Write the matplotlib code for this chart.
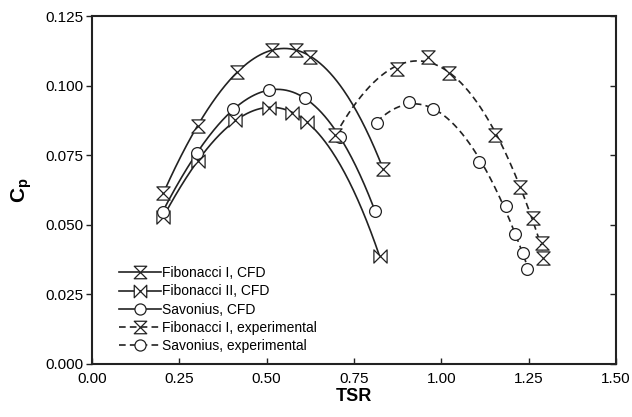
import numpy as np
import matplotlib
matplotlib.use('Agg')
import matplotlib.pyplot as plt
from matplotlib.path import Path

plt.rcParams['font.family'] = ['Liberation Sans', 'DejaVu Sans']
plt.rcParams['mathtext.fontset'] = 'custom'
plt.rcParams['mathtext.rm'] = 'Liberation Sans'
plt.rcParams['mathtext.bf'] = 'Liberation Sans:bold'

# Data
fib1_cfd_x = [0.204, 0.304, 0.414, 0.514, 0.584, 0.624, 0.834]
fib1_cfd_y = [0.0615, 0.0855, 0.1050, 0.1128, 0.1128, 0.1104, 0.0699]

fib2_cfd_x = [0.204, 0.304, 0.409, 0.508, 0.573, 0.615, 0.823]
fib2_cfd_y = [0.0529, 0.0729, 0.0876, 0.0921, 0.0903, 0.0870, 0.0388]

sav_cfd_x = [0.202, 0.301, 0.405, 0.507, 0.609, 0.710, 0.810]
sav_cfd_y = [0.0547, 0.0759, 0.0915, 0.0984, 0.0955, 0.0814, 0.0550]

fib1_exp_x = [0.696, 0.872, 0.963, 1.023, 1.154, 1.225, 1.263, 1.287, 1.292]
fib1_exp_y = [0.0823, 0.1059, 0.1102, 0.1044, 0.0823, 0.0635, 0.0523, 0.0436, 0.0380]

sav_exp_x = [0.815, 0.906, 0.977, 1.109, 1.184, 1.211, 1.235, 1.245]
sav_exp_y = [0.0867, 0.0940, 0.0915, 0.0724, 0.0568, 0.0467, 0.0400, 0.0341]

labels = ['Fibonacci I, CFD', 'Fibonacci II, CFD', 'Savonius, CFD',
          'Fibonacci I, experimental', 'Savonius, experimental']

# custom markers
hourglass = Path([(-1, 1), (1, 1), (-1, -1), (1, -1), (-1, 1)],
                 [Path.MOVETO, Path.LINETO, Path.LINETO, Path.LINETO, Path.CLOSEPOLY])
bowtie = Path([(-1, 1), (-1, -1), (1, 1), (1, -1), (-1, 1)],
              [Path.MOVETO, Path.LINETO, Path.LINETO, Path.LINETO, Path.CLOSEPOLY])

fig = plt.figure(figsize=(6.32, 4.17), dpi=100)
ax = fig.add_axes([0.1456, 0.1271, 0.8291, 0.8345])

series = [
    (fib1_cfd_x, fib1_cfd_y, hourglass, '-', 9.5),
    (fib2_cfd_x, fib2_cfd_y, bowtie, '-', 9.5),
    (sav_cfd_x, sav_cfd_y, 'o', '-', 8.5),
    (fib1_exp_x, fib1_exp_y, hourglass, (0, (4, 2.5)), 9.5),
    (sav_exp_x, sav_exp_y, 'o', (0, (4, 2.5)), 8.5),
]

for (xs, ys, mk, ls, ms), lab in zip(series, labels):
    xs = np.array(xs)
    ys = np.array(ys)
    coef = np.polyfit(xs, ys, 3)
    xx = np.linspace(xs.min(), xs.max(), 200)
    ax.plot(xx, np.polyval(coef, xx), color='#222222', lw=1.2, ls=ls, zorder=2)
    ax.plot(xs, ys, ls='none', marker=mk, ms=ms, mfc='white', mec='#222222',
            mew=0.9, zorder=3)
    # legend proxy
    ax.plot([], [], color='#222222', lw=1.2, ls=ls, marker=mk, ms=ms - 0.5,
            mfc='white', mec='#222222', mew=0.9, label=lab)

ax.set_xlim(0, 1.5)
ax.set_ylim(0, 0.125)
ax.set_xticks(np.arange(0, 1.51, 0.25))
ax.set_yticks(np.arange(0, 0.1251, 0.025))
ax.xaxis.set_major_formatter(matplotlib.ticker.FormatStrFormatter('%.2f'))
ax.yaxis.set_major_formatter(matplotlib.ticker.FormatStrFormatter('%.3f'))

ax.tick_params(axis='x', direction='in', length=4, width=1, labelsize=11,
               pad=6, color='#222222')
ax.tick_params(axis='y', direction='out', length=4, width=1, labelsize=11,
               pad=2, color='#222222', right=True)
for t in ax.yaxis.get_ticklines()[1::2]:
    t.set_marker(matplotlib.markers.TICKLEFT)

for s in ax.spines.values():
    s.set_linewidth(1.5)
    s.set_color('#222222')

ax.set_xlabel('TSR', fontsize=13, fontweight='bold', labelpad=1)
ax.set_ylabel(r'$\mathbf{C_p}$', fontsize=15, labelpad=8)

ax.legend(loc='lower left', bbox_to_anchor=(0.03, 0.0), frameon=False,
          fontsize=10, handlelength=3.0, labelspacing=0.3, handletextpad=0.1,
          borderpad=0.3)

fig.savefig('out.png', dpi=100, facecolor='white')
